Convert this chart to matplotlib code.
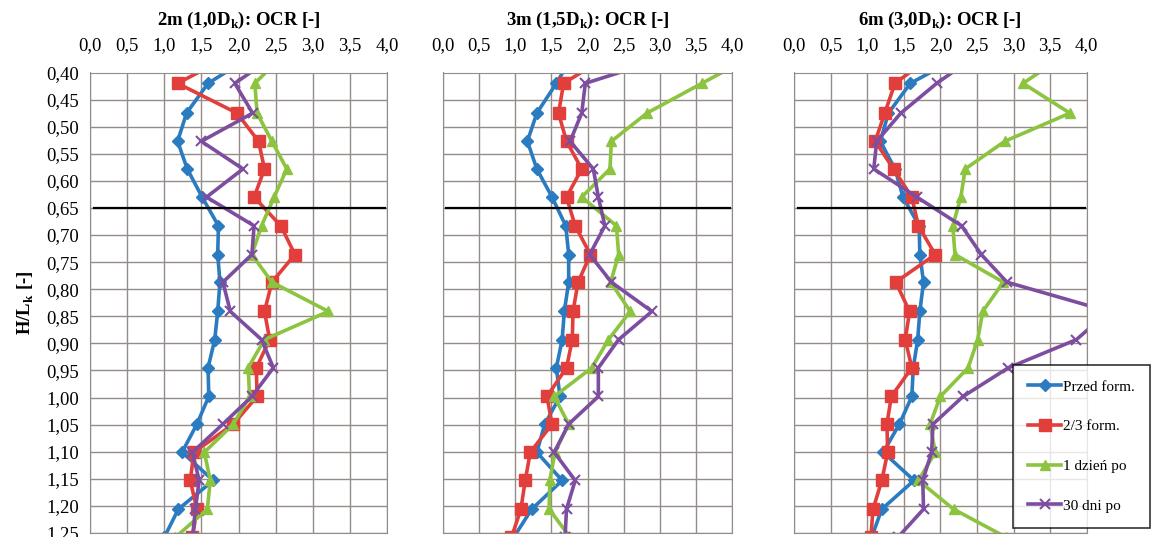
import matplotlib
matplotlib.use("Agg")
import matplotlib.pyplot as plt
from matplotlib.ticker import FuncFormatter

plt.rcParams['font.family'] = ['Liberation Serif', 'DejaVu Serif']
plt.rcParams['mathtext.fontset'] = 'custom'
plt.rcParams['mathtext.rm'] = 'Liberation Serif'
plt.rcParams['mathtext.bf'] = 'Liberation Serif:bold'

# depth levels H/Lk (first one lies just above the visible range)
glebokosc = [0.368, 0.42, 0.475, 0.527, 0.578, 0.63, 0.683, 0.736, 0.787, 0.841,
             0.893, 0.945, 0.998, 1.049, 1.101, 1.153, 1.206, 1.258]

tytuly = ['2m (1,0D$_\\mathbf{k}$): OCR [-]',
          '3m (1,5D$_\\mathbf{k}$): OCR [-]',
          '6m (3,0D$_\\mathbf{k}$): OCR [-]']

etykiety = ['Przed form.', '2/3 form.', '1 dzień po', '30 dni po']

# 2m
przed_2m = [2.2, 1.59, 1.30, 1.18, 1.31, 1.51, 1.73, 1.72, 1.75, 1.72, 1.68, 1.59,
            1.60, 1.44, 1.24, 1.66, 1.19, 1.00]
form_2m = [1.9, 1.18, 1.98, 2.27, 2.35, 2.21, 2.57, 2.76, 2.45, 2.35, 2.42, 2.24,
           2.25, 1.93, 1.40, 1.35, 1.44, 1.38]
dzien_2m = [2.6, 2.22, 2.25, 2.45, 2.65, 2.48, 2.31, 2.18, 2.45, 3.21, 2.35, 2.13,
            2.15, 1.93, 1.54, 1.62, 1.58, 1.15]
dni30_2m = [2.5, 1.95, 2.19, 1.50, 2.06, 1.57, 2.21, 2.18, 1.79, 1.89, 2.31, 2.47,
            2.18, 1.79, 1.38, 1.47, 1.42, 1.38]

# 3m
przed_3m = [1.8, 1.57, 1.30, 1.17, 1.30, 1.51, 1.70, 1.74, 1.74, 1.68, 1.65, 1.57,
            1.62, 1.41, 1.30, 1.65, 1.23, 0.98]
form_3m = [2.3, 1.67, 1.60, 1.71, 1.92, 1.71, 1.83, 2.04, 1.87, 1.80, 1.79, 1.71,
           1.44, 1.51, 1.21, 1.14, 1.08, 0.95]
dzien_3m = [4.3, 3.58, 2.82, 2.33, 2.31, 1.92, 2.40, 2.43, 2.32, 2.59, 2.29, 2.06,
            1.54, 1.74, 1.55, 1.48, 1.47, 1.76]
dni30_3m = [3.2, 1.97, 1.92, 1.76, 2.08, 2.15, 2.24, 2.03, 2.33, 2.89, 2.43, 2.15,
            2.15, 1.74, 1.54, 1.83, 1.71, 1.69]

# 6m
przed_6m = [2.3, 1.59, 1.29, 1.18, 1.38, 1.49, 1.71, 1.72, 1.77, 1.72, 1.69, 1.63,
            1.61, 1.44, 1.22, 1.64, 1.20, 1.06]
form_6m = [1.9, 1.38, 1.24, 1.11, 1.36, 1.61, 1.70, 1.93, 1.39, 1.58, 1.52, 1.61,
           1.33, 1.27, 1.28, 1.20, 1.08, 1.05]
dzien_6m = [3.7, 3.13, 3.77, 2.88, 2.34, 2.28, 2.17, 2.20, 2.86, 2.58, 2.51, 2.38,
            2.00, 1.86, 1.93, 1.70, 2.18, 2.90]
dni30_6m = [2.5, 1.95, 1.46, 1.13, 1.09, 1.68, 2.29, 2.56, 2.91, 4.3, 3.86, 2.93,
            2.31, 1.90, 1.88, 1.76, 1.77, 1.42]

panele = [
    (przed_2m, form_2m, dzien_2m, dni30_2m),
    (przed_3m, form_3m, dzien_3m, dni30_3m),
    (przed_6m, form_6m, dzien_6m, dni30_6m),
]

kolory = ['#2a7bc0', '#e23f3c', '#8cc43f', '#7d4e9f']
markery = ['D', 's', '^', 'x']
rozmiary = [6, 8.5, 7.5, 7]

fig = plt.figure(figsize=(11.61, 5.37), dpi=100)
W, H = 1161.0, 537.0
pozycje = [(90, 387), (442.7, 732.3), (794, 1086.7)]
gora, dol = 72.5, 533.0

przecinek_x = FuncFormatter(lambda v, p: ('%.1f' % v).replace('.', ','))
przecinek_y = FuncFormatter(lambda v, p: ('%.2f' % v).replace('.', ','))

linie = []
for k, (seria, (x0, x1)) in enumerate(zip(panele, pozycje)):
    ax = fig.add_axes([x0 / W, 1 - dol / H, (x1 - x0) / W, (dol - gora) / H])
    for j, wartosci in enumerate(seria):
        l, = ax.plot(wartosci, glebokosc, color=kolory[j], marker=markery[j],
                     markersize=rozmiary[j], linewidth=2.6,
                     markeredgewidth=1.5 if markery[j] == 'x' else 1.0,
                     label=etykiety[j])
        if k == 0:
            linie.append(l)
    ax.plot([0.05, 3.97], [0.65, 0.65], color='black', linewidth=1.6, zorder=5)
    ax.set_xlim(0, 4.0)
    ax.set_ylim(1.25, 0.40)
    ax.set_xticks([0.5 * i for i in range(9)])
    ax.set_yticks([0.40 + 0.05 * i for i in range(18)])
    ax.xaxis.set_major_formatter(przecinek_x)
    ax.yaxis.set_major_formatter(przecinek_y)
    ax.xaxis.tick_top()
    ax.tick_params(axis='x', length=0, pad=13, labelsize=13.5)
    ax.tick_params(axis='y', length=0, pad=8, labelsize=13.5)
    if k > 0:
        ax.tick_params(axis='y', labelleft=False)
    ax.grid(True, color='#948c88', linewidth=1.0)
    ax.set_axisbelow(True)
    for s in ax.spines.values():
        s.set_color('#948c88')
    ax.set_title(tytuly[k], fontsize=13.5, fontweight='bold', pad=9)
    if k == 0:
        ax.set_ylabel('H/L$_\\mathbf{k}$ [-]', fontsize=13.5, fontweight='bold', labelpad=7)

leg = fig.legend(handles=linie, loc='lower left',
                 bbox_to_anchor=(1013 / W, 1 - 528 / H),
                 fontsize=11, frameon=True, fancybox=False,
                 labelspacing=1.7, handlelength=2.15, handletextpad=0.1,
                 borderpad=1.0, borderaxespad=0)
leg.get_frame().set_edgecolor('black')
leg.get_frame().set_linewidth(1.2)
leg.set_zorder(10)

fig.savefig('out.png', dpi=100)
